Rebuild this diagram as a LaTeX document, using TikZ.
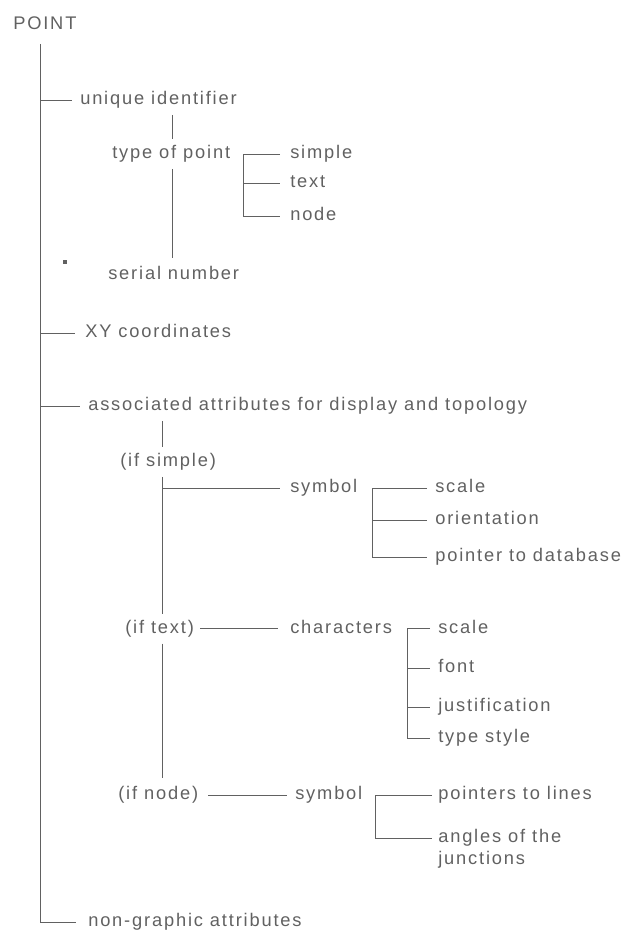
\documentclass[tikz,border=0pt]{standalone}
\usepackage{fontspec}
\newfontfamily\lblfont{Liberation Sans}[LetterSpace=10]
\usetikzlibrary{calc}
\definecolor{ink}{gray}{0.38}

\begin{document}
\begin{tikzpicture}[
    lbl/.style={anchor=west, inner sep=0pt, text=ink, text height=9.5pt, text depth=2.7pt,
                font=\lblfont\fontsize{13pt}{15.6pt}\selectfont},
    link/.style={draw=ink, line width=0.7pt}]
    \useasboundingbox (0,0) rectangle (15.675,-23.25);

    % Trục chính bên trái
    \coordinate (mx) at (1.0,0);
    \node[lbl] (pt) at (0.325,-0.625) {POINT};
    \node[lbl] (non) at (2.2,-23.05) {non-graphic attributes};
    \draw[link] ([yshift=-2.5mm]pt.south -| mx) |- ([xshift=-3mm]non.west);

    % Nhánh: unique identifier
    \coordinate (v1) at (4.3,0);
    \node[lbl] (uid) at (2.0,-2.5) {unique identifier};
    \node[lbl] (typ) at (2.8,-3.85) {type of point};
    \node[lbl] (ser) at (2.7,-6.875) {serial number};
    \draw[link] (mx |- uid) -- ([xshift=-2mm]uid.west);
    \draw[link] ([yshift=-1.5mm]uid.south -| v1) -- ([yshift=1.5mm]typ.north -| v1);
    \draw[link] ([yshift=-1.5mm]typ.south -| v1) -- ([yshift=2mm]ser.north -| v1);
    \fill[ink] (1.565,-6.61) rectangle (1.685,-6.49);

    % Ngoặc: simple / text / node
    \coordinate (b1) at (6.075,0);
    \node[lbl] (tsim) at (7.25,-3.85) {simple};
    \node[lbl] (ttxt) at (7.25,-4.575) {text};
    \node[lbl] (tnod) at (7.25,-5.4) {node};
    \draw[link] ([xshift=-2.5mm]tsim.west) -- (b1 |- tsim) -- (b1 |- tnod) -- ([xshift=-2.5mm]tnod.west);
    \draw[link] (b1 |- ttxt) -- ([xshift=-2.5mm]ttxt.west);

    % Nhánh: XY coordinates
    \node[lbl] (xy) at (2.125,-8.325) {XY coordinates};
    \draw[link] (mx |- xy) -- ([xshift=-2.5mm]xy.west);

    % Nhánh: associated attributes
    \coordinate (v2) at (4.05,0);
    \node[lbl] (asc) at (2.2,-10.15) {associated attributes for display and topology};
    \node[lbl] (isim) at (3.0,-11.55) {(if simple)};
    \node[lbl] (itxt) at (3.125,-15.72) {(if text)};
    \node[lbl] (inod) at (2.95,-19.875) {(if node)};
    \draw[link] (mx |- asc) -- ([xshift=-2mm]asc.west);
    \draw[link] ([yshift=-1.5mm]asc.south -| v2) -- ([yshift=1.5mm]isim.north -| v2);
    \draw[link] ([yshift=-1.5mm]isim.south -| v2) -- ([yshift=1.5mm]itxt.north -| v2);
    \draw[link] ([yshift=-1.5mm]itxt.south -| v2) -- ([yshift=2mm]inod.north -| v2);

    % (if simple): symbol
    \coordinate (b2) at (9.3,0);
    \node[lbl] (sym1) at (7.25,-12.2) {symbol};
    \node[lbl] (s1a) at (10.875,-12.2) {scale};
    \node[lbl] (s1b) at (10.875,-13.0) {orientation};
    \node[lbl] (s1c) at (10.875,-13.925) {pointer to database};
    \draw[link] (v2 |- sym1) -- ([xshift=-2.5mm]sym1.west);
    \draw[link] ([xshift=-2mm]s1a.west) -- (b2 |- s1a) -- (b2 |- s1c) -- ([xshift=-2mm]s1c.west);
    \draw[link] (b2 |- s1b) -- ([xshift=-2mm]s1b.west);

    % (if text): characters
    \coordinate (b3) at (10.175,0);
    \node[lbl] (chr) at (7.25,-15.72) {characters};
    \node[lbl] (c1) at (10.95,-15.72) {scale};
    \node[lbl] (c2) at (10.95,-16.7) {font};
    \node[lbl] (c3) at (10.95,-17.675) {justification};
    \node[lbl] (c4) at (10.95,-18.45) {type style};
    \draw[link] ([xshift=1.5mm]itxt.east) -- ([xshift=-3mm]chr.west);
    \draw[link] ([xshift=-2mm]c1.west) -- (b3 |- c1) -- (b3 |- c4) -- ([xshift=-2mm]c4.west);
    \draw[link] (b3 |- c2) -- ([xshift=-2mm]c2.west);
    \draw[link] (b3 |- c3) -- ([xshift=-2mm]c3.west);

    % (if node): symbol
    \coordinate (b4) at (9.375,0);
    \node[lbl] (sym2) at (7.375,-19.875) {symbol};
    \node[lbl] (p1) at (10.95,-19.875) {pointers to lines};
    \node[lbl, anchor=north west, align=left, text height={}, text depth={}] (p2) at (10.95,-20.735) {angles of the\\junctions};
    \draw[link] ([xshift=2.5mm]inod.east) -- ([xshift=-2mm]sym2.west);
    \draw[link] ([xshift=-1.5mm]p1.west) -- (b4 |- p1) |- ([xshift=-1.5mm,yshift=-2.15mm]p2.north west);
\end{tikzpicture}
\end{document}
